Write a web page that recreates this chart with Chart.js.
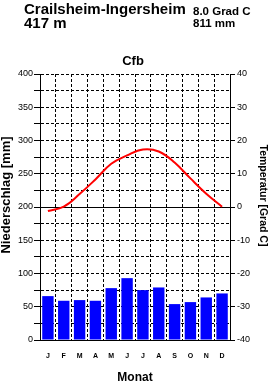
<!DOCTYPE html>
<html lang="de">
<head>
<meta charset="UTF-8">
<title>Klimadiagramm Crailsheim-Ingersheim</title>
<style>
  * { margin: 0; padding: 0; box-sizing: border-box; }
  body { background: #FFFFFF; width: 268px; height: 382px; overflow: hidden; }
  .wrap { position: relative; width: 268px; height: 382px; }
</style>
</head>
<body>
<div class="wrap"><canvas id="klima" width="268" height="382"></canvas></div>

<script src="https://cdn.jsdelivr.net/npm/chart.js@4.4.0/dist/chart.umd.min.js"></script>
<script>
// Monatswerte
const months = ['J', 'F', 'M', 'A', 'M', 'J', 'J', 'A', 'S', 'O', 'N', 'D'];
const niederschlag = [66, 59, 60, 59, 78, 93, 75, 79, 54, 57, 64, 70];
const temperatur = [-1.2, 0.1, 3.9, 8.3, 13.0, 15.5, 17.3, 16.7, 13.4, 8.6, 4.0, 0.1];

const station = 'Crailsheim-Ingersheim';
const hoehe = '417 m';
const jahresTemp = '8.0 Grad C';
const jahresNied = '811 mm';
const klimaTyp = 'Cfb';
const titelNied = 'Niederschlag [mm]';
const titelTemp = 'Temperatur [Grad C]';

const font = "'Liberation Sans', Arial, sans-serif";
Chart.defaults.font.family = font;
Chart.defaults.color = '#000000';

const dashed = [3, 2];

// Kopfzeile und senkrechte Achsentitel
const beschriftung = {
  id: 'beschriftung',
  afterDraw(chart) {
    const ctx = chart.ctx;
    const a = chart.chartArea;
    ctx.save();
    ctx.fillStyle = '#000';
    ctx.textBaseline = 'alphabetic';
    ctx.textAlign = 'left';
    ctx.font = 'bold 15px ' + font;
    ctx.fillText(station, 24, 14);
    ctx.fillText(hoehe, 24, 28);
    ctx.font = 'bold 11.5px ' + font;
    ctx.fillText(jahresTemp, 193, 15);
    ctx.fillText(jahresNied, 193, 27);
    ctx.textAlign = 'center';
    ctx.font = 'bold 13px ' + font;
    ctx.fillText(klimaTyp, (a.left + a.right) / 2 - 2, 65);

    // links: Niederschlag, von unten nach oben
    ctx.save();
    ctx.translate(9.5, 195);
    ctx.rotate(-Math.PI / 2);
    ctx.font = 'bold 13px ' + font;
    ctx.fillText(titelNied, 0, 0);
    ctx.restore();

    // rechts: Temperatur, von oben nach unten
    ctx.save();
    ctx.translate(260, 195.5);
    ctx.rotate(Math.PI / 2);
    ctx.font = 'bold 10.5px ' + font;
    ctx.fillText(titelTemp, 0, 0);
    ctx.restore();

    ctx.restore();
  }
};

new Chart(document.getElementById('klima'), {
  type: 'bar',
  data: {
    labels: months,
    datasets: [
      {
        type: 'line',
        data: temperatur,
        yAxisID: 'temp',
        borderColor: '#FF0000',
        borderWidth: 2,
        pointRadius: 0,
        tension: 0.4,
        fill: false,
        order: 0
      },
      {
        type: 'bar',
        data: niederschlag,
        yAxisID: 'nied',
        backgroundColor: '#0000FF',
        barPercentage: 0.72,
        categoryPercentage: 1,
        order: 1
      }
    ]
  },
  options: {
    responsive: false,
    animation: false,
    layout: { padding: { top: 74, left: 0, right: 0, bottom: 0 } },
    plugins: {
      legend: { display: false },
      tooltip: { enabled: false }
    },
    scales: {
      x: {
        grid: { offset: true, color: '#000', drawTicks: false, lineWidth: 1 },
        border: { color: '#000', width: 1, dash: c => (c.type === 'tick' ? dashed : []) },
        ticks: { padding: 12, font: { size: 7, weight: 'bold' }, maxRotation: 0, autoSkip: false },
        title: {
          display: true,
          text: 'Monat',
          font: { size: 12, weight: 'bold', lineHeight: 0.8 },
          padding: 0,
          align: 'center'
        },
        afterFit: s => { s.height = 42; }
      },
      nied: {
        position: 'left',
        min: 0,
        max: 400,
        grid: {
          color: '#000',
          tickLength: 6,
          tickColor: '#000'
        },
        border: {
          color: '#000',
          width: 1,
          dash: c => (c.type === 'tick' && c.tick.value !== 200 && c.tick.value !== 0 ? dashed : [])
        },
        ticks: {
          stepSize: 25,
          padding: 1,
          font: { size: 9 },
          callback: v => (v % 50 === 0 ? v : '')
        },
        afterFit: s => { s.width = 40; }
      },
      temp: {
        position: 'right',
        min: -40,
        max: 40,
        grid: { drawOnChartArea: false, color: '#000', tickLength: 5 },
        border: { color: '#000', width: 1 },
        ticks: { stepSize: 10, padding: 2, font: { size: 9 } },
        afterFit: s => { s.width = 38; }
      }
    }
  },
  plugins: [beschriftung]
});
</script>
</body>
</html>
